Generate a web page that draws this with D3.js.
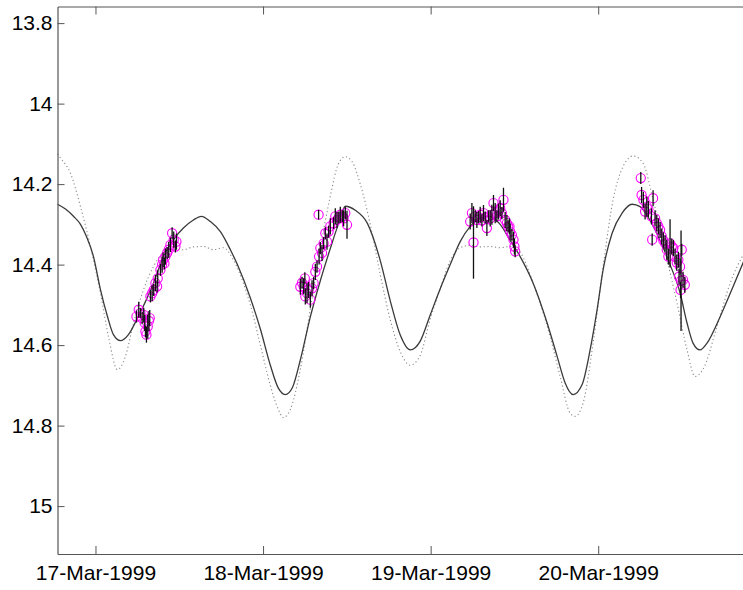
<!DOCTYPE html>
<html>
<head>
<meta charset="utf-8">
<script src="https://cdn.jsdelivr.net/npm/d3@7"></script>
<style>
  html, body { margin: 0; padding: 0; background: #fff; }
  svg { display: block; }
  .tick text { font-family: "Liberation Sans", Arial, Helvetica, sans-serif; fill: #000; }
</style>
</head>
<body>
<svg id="chart" width="743" height="590"></svg>
<script>
// Time is given in days after 17-Mar-1999 00:00.
const startDate = new Date(1999, 2, 17);

// Model water level (solid line)
const modelDays = [-0.2266, -0.1789, -0.1312, -0.0894, -0.0537, -0.0119, 0.0298, 0.0716, 0.1073, 0.1491,
  0.1968, 0.2504, 0.2982, 0.3459, 0.4055, 0.4651, 0.5247, 0.5844, 0.6321, 0.6858,
  0.7454, 0.8050, 0.8468, 0.9243, 0.9839, 1.0435, 1.0912, 1.1330, 1.1747, 1.2224,
  1.2821, 1.3417, 1.4013, 1.4490, 1.4908, 1.5504, 1.6219, 1.6995, 1.7591, 1.8187,
  1.8784, 1.9380, 1.9976, 2.0572, 2.1169, 2.1765, 2.2361, 2.2958, 2.3554, 2.4150,
  2.4747, 2.5343, 2.6118, 2.6953, 2.7549, 2.8026, 2.8503, 2.9040, 2.9517, 2.9934,
  3.0292, 3.0829, 3.1425, 3.2021, 3.2499, 3.3095, 3.3691, 3.4287, 3.4884, 3.5301,
  3.5659, 3.6076, 3.6494, 3.7269, 3.8044, 3.8700];
const modelLevel = [14.250, 14.262, 14.280, 14.300, 14.330, 14.380, 14.462, 14.529, 14.574, 14.589,
  14.574, 14.533, 14.492, 14.446, 14.380, 14.338, 14.309, 14.289, 14.280, 14.293,
  14.318, 14.363, 14.400, 14.483, 14.560, 14.650, 14.707, 14.723, 14.706, 14.637,
  14.530, 14.440, 14.360, 14.300, 14.255, 14.265, 14.297, 14.390, 14.490, 14.575,
  14.612, 14.590, 14.525, 14.460, 14.400, 14.343, 14.305, 14.285, 14.280, 14.300,
  14.340, 14.380, 14.446, 14.545, 14.628, 14.694, 14.723, 14.698, 14.612, 14.512,
  14.413, 14.322, 14.272, 14.250, 14.256, 14.290, 14.340, 14.400, 14.470, 14.545,
  14.595, 14.612, 14.595, 14.530, 14.455, 14.390];

// Tidal prediction (dotted line)
const tideDays = [-0.2266, -0.2087, -0.1491, -0.0894, -0.0298, 0.0298, 0.0775, 0.1312, 0.1789, 0.2266,
  0.2862, 0.3459, 0.4055, 0.4651, 0.5247, 0.5844, 0.6440, 0.7036, 0.7633, 0.8229,
  0.8825, 0.9243, 0.9839, 1.0435, 1.0912, 1.1210, 1.1628, 1.2224, 1.2821, 1.3417,
  1.4013, 1.4490, 1.4908, 1.5325, 1.5802, 1.6398, 1.6995, 1.7591, 1.8187, 1.8784,
  1.9380, 1.9976, 2.0572, 2.1169, 2.1765, 2.2361, 2.2958, 2.3554, 2.4150, 2.4747,
  2.5343, 2.6118, 2.7132, 2.7728, 2.8324, 2.8623, 2.9100, 2.9696, 3.0292, 3.0888,
  3.1485, 3.2081, 3.2677, 3.3274, 3.4109, 3.4705, 3.5301, 3.5778, 3.6255, 3.7090,
  3.7865, 3.8700];
const tideLevel = [14.125, 14.135, 14.173, 14.256, 14.355, 14.471, 14.579, 14.661, 14.628, 14.546,
  14.463, 14.405, 14.371, 14.362, 14.363, 14.356, 14.355, 14.363, 14.358, 14.388,
  14.446, 14.500, 14.600, 14.700, 14.760, 14.780, 14.760, 14.660, 14.510, 14.360,
  14.230, 14.150, 14.132, 14.145, 14.200, 14.300, 14.425, 14.537, 14.616, 14.650,
  14.625, 14.535, 14.460, 14.390, 14.358, 14.352, 14.356, 14.355, 14.358, 14.355,
  14.370, 14.446, 14.579, 14.678, 14.769, 14.777, 14.744, 14.595, 14.405, 14.239,
  14.156, 14.130, 14.148, 14.239, 14.388, 14.496, 14.612, 14.678, 14.660, 14.554,
  14.447, 14.372];

// Observations with their uncertainty
const obsDays = [
  0.2445, 0.2582, 0.2683, 0.2785, 0.2880, 0.2940, 0.2982, 0.3041, 0.3119, 0.3190,
  0.3238, 0.3280, 0.3381, 0.3476, 0.3578, 0.3679, 0.3715, 0.3876, 0.3977, 0.4037,
  0.4114, 0.4174, 0.4276, 0.4371, 0.4472, 0.4574, 0.4669, 0.4770, 0.4830,
  1.2224, 1.2326, 1.2421, 1.2522, 1.2493, 1.2624, 1.2719, 1.2821, 1.2922, 1.3017,
  1.3119, 1.3220, 1.3315, 1.3345, 1.3417, 1.3518, 1.3614, 1.3715, 1.3816, 1.3912,
  1.4013, 1.4210, 1.4311, 1.4412, 1.4520, 1.4610, 1.4729, 1.4807, 1.4908, 1.5010,
  2.2361, 2.2463, 2.2558, 2.2659, 2.2760, 2.2856, 2.2958, 2.3059, 2.3154, 2.3256,
  2.3357, 2.3452, 2.3554, 2.3655, 2.3751, 2.3852, 2.3953, 2.4049, 2.4150, 2.4252,
  2.4347, 2.4448, 2.4550, 2.4627, 2.4705, 2.4747, 2.4848, 2.4944, 2.5000, 2.5045,
  3.2540, 3.2588, 3.2695, 3.2797, 3.2898, 3.2994, 3.3274, 3.3175, 3.3393, 3.3495,
  3.3220, 3.3590, 3.3691, 3.3793, 3.3888, 3.3990, 3.4091, 3.4187, 3.4287, 3.4389,
  3.4484, 3.4586, 3.4687, 3.4782, 3.4884, 3.4985, 3.4824, 3.4943, 3.5062, 3.5167,
  3.4914];
const obsLevel = [
  14.529, 14.512, 14.520, 14.533, 14.525, 14.545, 14.566, 14.574, 14.554, 14.540,
  14.533, 14.479, 14.471, 14.463, 14.446, 14.454, 14.434, 14.413, 14.400, 14.388,
  14.397, 14.380, 14.371, 14.363, 14.351, 14.322, 14.338, 14.355, 14.343,
  14.455, 14.445, 14.454, 14.479, 14.434, 14.471, 14.463, 14.487, 14.459, 14.446,
  14.418, 14.405, 14.276, 14.380, 14.359, 14.371, 14.347, 14.322, 14.343, 14.318,
  14.305, 14.297, 14.280, 14.289, 14.283, 14.276, 14.280, 14.285, 14.272, 14.301,
  14.293, 14.272, 14.345, 14.280, 14.289, 14.282, 14.276, 14.290, 14.272, 14.283,
  14.309, 14.280, 14.285, 14.276, 14.247, 14.272, 14.280, 14.268, 14.260, 14.272,
  14.239, 14.289, 14.297, 14.305, 14.305, 14.318, 14.326, 14.338, 14.355, 14.367,
  14.185, 14.227, 14.239, 14.268, 14.256, 14.262, 14.235, 14.280, 14.285, 14.297,
  14.338, 14.305, 14.314, 14.330, 14.340, 14.347, 14.363, 14.380, 14.347, 14.355,
  14.359, 14.380, 14.395, 14.388, 14.405, 14.363, 14.430, 14.440, 14.438, 14.450,
  14.463];
const obsError = [
  0.015, 0.020, 0.012, 0.015, 0.018, 0.020, 0.015, 0.020, 0.030, 0.025,
  0.020, 0.015, 0.020, 0.015, 0.020, 0.015, 0.020, 0.015, 0.020, 0.018,
  0.015, 0.020, 0.015, 0.020, 0.018, 0.015, 0.020, 0.015, 0.020,
  0.020, 0.015, 0.020, 0.020, 0.015, 0.025, 0.020, 0.020, 0.020, 0.015,
  0.020, 0.015, 0.012, 0.020, 0.015, 0.020, 0.015, 0.015, 0.020, 0.015,
  0.020, 0.015, 0.020, 0.020, 0.015, 0.020, 0.015, 0.020, 0.015, 0.035,
  0.020, 0.025, 0.090, 0.015, 0.020, 0.015, 0.020, 0.015, 0.020, 0.015,
  0.020, 0.015, 0.020, 0.025, 0.020, 0.025, 0.015, 0.020, 0.020, 0.015,
  0.030, 0.020, 0.020, 0.015, 0.020, 0.020, 0.015, 0.020, 0.020, 0.015,
  0.015, 0.020, 0.020, 0.020, 0.025, 0.020, 0.020, 0.020, 0.020, 0.020,
  0.015, 0.020, 0.020, 0.020, 0.020, 0.020, 0.025, 0.020, 0.060, 0.020,
  0.020, 0.020, 0.020, 0.020, 0.020, 0.015, 0.020, 0.125, 0.020, 0.020,
  0.020];

const yTicks = [13.8, 14, 14.2, 14.4, 14.6, 14.8, 15];
const xTickDays = [0, 1, 2, 3];

const toDate = d => new Date(startDate.getTime() + d * 864e5);

const svg = d3.select("#chart");
const plotLeft = 57.5, plotRight = 743, plotTop = 6.5, plotBottom = 554;

const x = d3.scaleTime()
  .domain([toDate(-0.2266), toDate(3.8640)])
  .range([plotLeft, plotRight]);
const y = d3.scaleLinear()
  .domain([13.7587, 15.119])
  .range([plotTop, plotBottom]);

const axisColor = "#555";
const fontSize = "21px";

// Model curves
const lineGen = d3.line().x(d => x(toDate(d[0]))).y(d => y(d[1])).curve(d3.curveMonotoneX);

svg.append("path")
  .datum(tideDays.map((d, i) => [d, tideLevel[i]]))
  .attr("d", lineGen)
  .attr("fill", "none")
  .attr("stroke", "#8a8a8a")
  .attr("stroke-width", 1.1)
  .attr("stroke-dasharray", "1.2,2.6");

svg.append("path")
  .datum(modelDays.map((d, i) => [d, modelLevel[i]]))
  .attr("d", lineGen)
  .attr("fill", "none")
  .attr("stroke", "#3a3a3a")
  .attr("stroke-width", 1.3);

// Observations: magenta circles with black error bars
const obs = obsDays.map((d, i) => ({ t: toDate(d), v: obsLevel[i], e: obsError[i] }));

svg.append("g").selectAll("circle")
  .data(obs)
  .join("circle")
  .attr("cx", d => x(d.t))
  .attr("cy", d => y(d.v))
  .attr("r", 4.6)
  .attr("fill", "none")
  .attr("stroke", "#ff00ff")
  .attr("stroke-width", 1.1);

svg.append("g").selectAll("line")
  .data(obs)
  .join("line")
  .attr("x1", d => x(d.t))
  .attr("x2", d => x(d.t))
  .attr("y1", d => y(d.v - d.e))
  .attr("y2", d => y(d.v + d.e))
  .attr("stroke", "#111")
  .attr("stroke-width", 1.3);

// Axes (boxed, ticks pointing inward)
const fmt = d3.timeFormat("%d-%b-%Y");

const xAxis = svg.append("g")
  .attr("transform", `translate(0,${plotBottom})`)
  .call(d3.axisBottom(x).tickValues(xTickDays.map(toDate)).tickFormat(fmt).tickSizeInner(-8).tickSizeOuter(0).tickPadding(11));
const xAxisTop = svg.append("g")
  .attr("transform", `translate(0,${plotTop})`)
  .call(d3.axisTop(x).tickValues(xTickDays.map(toDate)).tickFormat("").tickSizeInner(-8).tickSizeOuter(0));
const yAxis = svg.append("g")
  .attr("transform", `translate(${plotLeft},0)`)
  .call(d3.axisLeft(y).tickValues(yTicks).tickFormat(d3.format("")).tickSizeInner(-7).tickSizeOuter(0).tickPadding(5));

[xAxis, xAxisTop, yAxis].forEach(g => {
  g.select(".domain").attr("stroke", axisColor).attr("stroke-width", 1.2);
  g.selectAll(".tick line").attr("stroke", axisColor).attr("stroke-width", 1);
  g.selectAll(".tick text").style("font-size", fontSize).attr("fill", "#000");
});
</script>
</body>
</html>
